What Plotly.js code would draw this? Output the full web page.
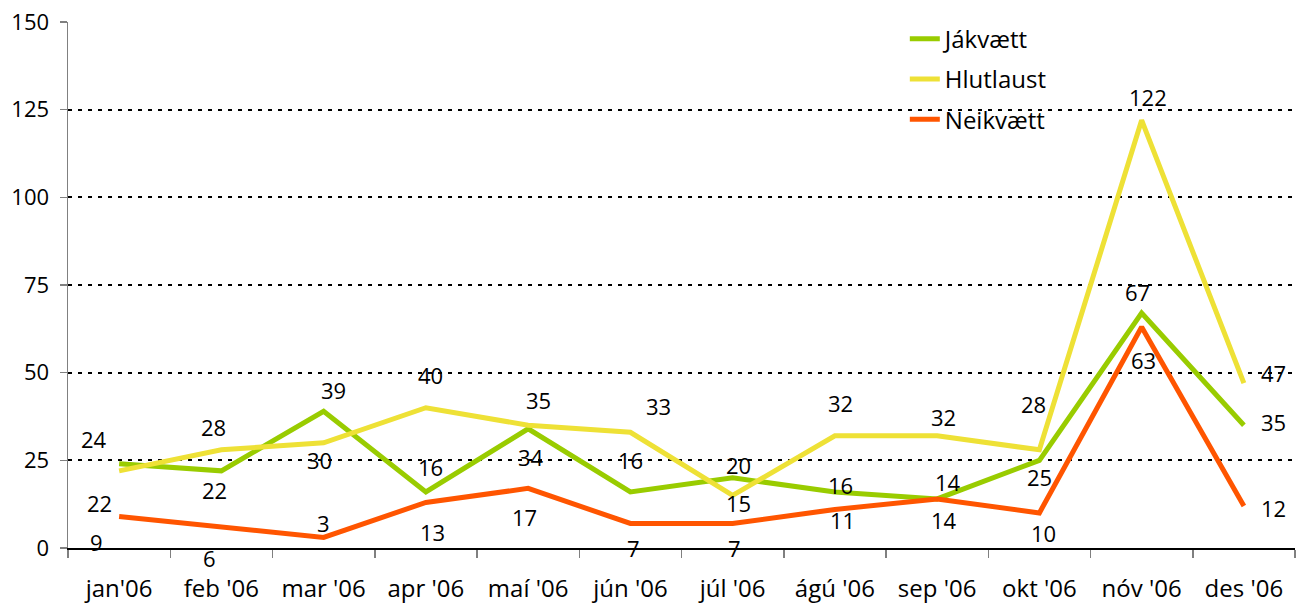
<!DOCTYPE html>
<html>
<head>
<meta charset="utf-8">
<script src="https://cdn.plot.ly/plotly-3.0.1.min.js"></script>
<style>html,body{margin:0;padding:0;background:#fff;}#chart{width:1308px;height:604px;}</style>
</head>
<body>
<div id="chart"></div>
<script>
const categories = ["jan'06","feb '06","mar '06","apr '06","maí '06","jún '06","júl '06","ágú '06","sep '06","okt '06","nóv '06","des '06"];
const jakvaett = [24,22,39,16,34,16,20,16,14,25,67,35];
const hlutlaust = [22,28,30,40,35,33,15,32,32,28,122,47];
const neikvaett = [9,6,3,13,17,7,7,11,14,10,63,12];
const yTicks = [0,25,50,75,100,125,150];

// label pixel offsets (dx, dy) relative to each point
const offJ = [[-25,-25],[-7,19],[10,-21],[5,-25],[3,28],[0,-32],[6,-13],[6,-7],[11,-17],[0,17],[-4,-21],[30,-3]];
const offH = [[-20,32],[-8,-23],[-4,17],[5,-33],[10,-25],[28,-26],[6,8],[6,-33],[6,-19],[-6,-46],[6,-23],[30,-10]];
const offN = [[-23,26],[-12,31],[0,-14],[7,30],[-4,29],[3,25],[2,25],[8,11],[7,21],[4,20],[2,33],[30,2]];

const FONT = "Open Sans, sans-serif";
const series = [
  {name:"Jákvætt", y:jakvaett, color:"#99CC00", off:offJ},
  {name:"Hlutlaust", y:hlutlaust, color:"#EEE136", off:offH},
  {name:"Neikvætt", y:neikvaett, color:"#FF5500", off:offN}
];

const traces = series.map((s,i)=>({
  type:"scatter", mode:"lines", name:s.name, x:categories, y:s.y,
  line:{color:s.color, width:5}, legendgroup:"g"+i
}));

const annotations = [];
series.forEach(s=>{
  s.y.forEach((v,i)=>{
    annotations.push({x:categories[i], y:v, xref:"x", yref:"y", text:String(v), showarrow:false,
      xshift:s.off[i][0], yshift:-s.off[i][1], font:{family:FONT, size:22, color:"#000"}});
  });
});

const layout = {
  width:1308, height:604,
  margin:{l:68, r:13, t:22, b:56},
  paper_bgcolor:"#fff", plot_bgcolor:"#fff",
  font:{family:FONT, size:22, color:"#000"},
  showlegend:true,
  legend:{x:0.682, y:1.01, xanchor:"left", yanchor:"top", bgcolor:"rgba(0,0,0,0)",
    font:{family:FONT, size:24, color:"#000"}, traceorder:"grouped", tracegroupgap:6},
  xaxis:{type:"category", range:[-0.5,11.5], showgrid:false, zeroline:false,
    showline:true, linecolor:"#000", linewidth:1.5,
    ticks:"outside", tickson:"boundaries", ticklen:8, tickcolor:"#808080", tickwidth:1.5,
    ticklabelstandoff:19,
    tickfont:{family:FONT, size:24, color:"#000"}},
  yaxis:{range:[0,150], tickvals:yTicks, ticktext:yTicks.map(String), showgrid:true,
    gridcolor:"#000", gridwidth:2, griddash:"4px,6px", zeroline:false,
    showline:true, linecolor:"#808080", linewidth:1.5,
    ticks:"outside", ticklen:7, tickcolor:"#808080", tickwidth:1.5,
    ticklabelstandoff:6,
    tickfont:{family:FONT, size:22, color:"#000"}},
  annotations:annotations
};

Plotly.newPlot("chart", traces, layout, {staticPlot:true});
</script>
</body>
</html>
